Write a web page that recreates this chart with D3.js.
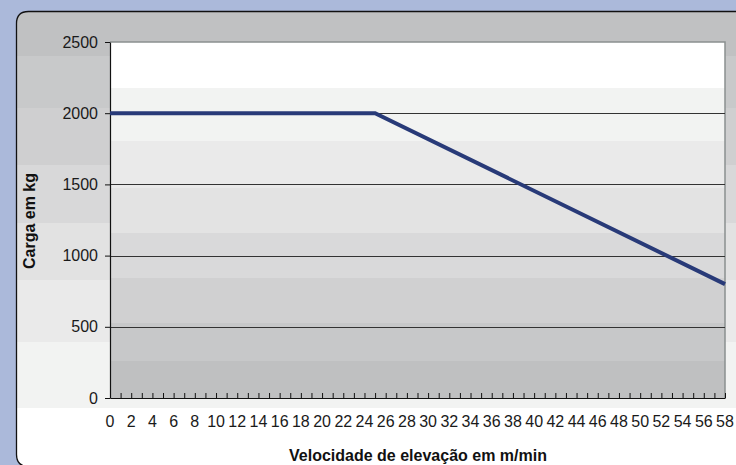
<!DOCTYPE html>
<html>
<head>
<meta charset="utf-8">
<script src="https://cdn.jsdelivr.net/npm/d3@7"></script>
<style>
  body { margin: 0; background: #abb9da; }
  svg { display: block; }
  svg text { font-family: "Liberation Sans", Arial, sans-serif; }
</style>
</head>
<body>
<svg id="chart" width="736" height="465"></svg>
<script>
// chart data
const speeds = [0, 25, 58];          // m/min
const loads = [2000, 2000, 800];     // kg
const yTicks = [0, 500, 1000, 1500, 2000, 2500];
const xTickLabels = [0, 2, 4, 6, 8, 10, 12, 14, 16, 18, 20, 22, 24, 26, 28, 30,
    32, 34, 36, 38, 40, 42, 44, 46, 48, 50, 52, 54, 56, 58];
const xMinorTicks = d3.range(0, 59, 1);
const xTitle = "Velocidade de elevação em m/min";
const yTitle = "Carga em kg";

(function () {
    var width = 736, height = 465;
    var margin = { left: 110, right: 725, top: 42, bottom: 398 };

    const svg = d3.select("#chart");

    svg.append("rect").attr("width", width).attr("height", height).attr("fill", "#abb9da");

    // outer panel, rounded on the left, runs off the right/bottom edges
    var px = 16.5, py = 11.5, pr = 12, pw = 740, ph = 455;
    var panelPath = `M${px},${py + pr} Q${px},${py} ${px + pr},${py} L${px + pw},${py} L${px + pw},${py + ph} L${px + pr},${py + ph} Q${px},${py + ph} ${px},${py + ph - pr} Z`;

    svg.append("clipPath").attr("id", "panelClip").append("path").attr("d", panelPath);

    // panel gradient bands (dark at top, white at bottom)
    const panelBands = [
        [11, 56, "#c0c1c2"], [56, 108, "#c8c9ca"], [108, 165, "#cfcfd0"],
        [165, 223, "#d8d8d9"], [223, 280, "#e2e2e2"], [280, 342, "#eaeaea"],
        [342, 408, "#f2f3f2"], [408, 470, "#ffffff"]
    ];
    svg.append("g").attr("clip-path", "url(#panelClip)")
        .selectAll("rect")
        .data(panelBands)
        .join("rect")
        .attr("x", 0).attr("width", width)
        .attr("y", d => d[0]).attr("height", d => d[1] - d[0])
        .attr("fill", d => d[2]);

    svg.append("path").attr("d", panelPath)
        .attr("fill", "none").attr("stroke", "#111").attr("stroke-width", 1.3);

    var x = d3.scaleLinear().domain([0, 58]).range([margin.left, margin.right]);
    var y = d3.scaleLinear().domain([0, 2500]).range([margin.bottom, margin.top]);

    // plot area bands (white at top, gray at bottom)
    const plotBands = [
        [42, 88, "#ffffff"], [88, 141, "#f2f3f2"], [141, 188, "#eaeaea"],
        [188, 233, "#e3e3e3"], [233, 278, "#d9d9da"], [278, 323, "#d0d0d1"],
        [323, 361, "#c7c8c9"], [361, 398, "#bfc0c1"]
    ];
    svg.append("g")
        .selectAll("rect")
        .data(plotBands)
        .join("rect")
        .attr("x", margin.left).attr("width", margin.right - margin.left)
        .attr("y", d => d[0]).attr("height", d => d[1] - d[0])
        .attr("fill", d => d[2]);

    // top and right plot border
    svg.append("path")
        .attr("d", `M${margin.left},${margin.top} H${margin.right} V${margin.bottom}`)
        .attr("fill", "none").attr("stroke", "#8a9090").attr("stroke-width", 1.5);

    // gridlines
    svg.append("g")
        .selectAll("line")
        .data(yTicks.filter(d => d > 0 && d < 2500))
        .join("line")
        .attr("x1", margin.left).attr("x2", margin.right)
        .attr("y1", d => Math.round(y(d)) + 0.5).attr("y2", d => Math.round(y(d)) + 0.5)
        .attr("stroke", "#333").attr("stroke-width", 1);

    // y axis
    const yAxis = svg.append("g")
        .attr("transform", `translate(${margin.left},0)`)
        .call(d3.axisLeft(y).tickValues(yTicks).tickFormat(d3.format("d"))
            .tickSize(5).tickSizeOuter(0).tickPadding(7));
    yAxis.attr("font-family", null);
    yAxis.select(".domain").attr("stroke", "#111").attr("stroke-width", 1.2);
    yAxis.selectAll(".tick line").attr("stroke", "#111");
    yAxis.selectAll("text").attr("font-size", "16px").attr("fill", "#1a1a1a");

    // x axis: minor inward ticks every unit, labels every 2
    const xAxis = svg.append("g")
        .attr("transform", `translate(0,${margin.bottom})`)
        .call(d3.axisBottom(x).tickValues(xMinorTicks).tickSize(-5).tickSizeOuter(0).tickFormat(""));
    xAxis.select(".domain").attr("stroke", "#111").attr("stroke-width", 1.2);
    xAxis.selectAll(".tick line").attr("stroke", "#111");

    svg.append("g")
        .selectAll("text")
        .data(xTickLabels)
        .join("text")
        .attr("x", d => x(d))
        .attr("y", 427)
        .attr("text-anchor", "middle")
        .attr("font-size", "16px")
        .attr("fill", "#1a1a1a")
        .text(d => d);

    // data line
    var line = d3.line().x((d, i) => x(speeds[i])).y(d => y(d));
    svg.append("path")
        .datum(loads)
        .attr("d", line)
        .attr("fill", "none")
        .attr("stroke", "#283a78")
        .attr("stroke-width", 4);

    // axis titles
    svg.append("text")
        .attr("x", 418).attr("y", 461)
        .attr("text-anchor", "middle")
        .attr("font-size", "16px").attr("font-weight", "bold").attr("fill", "#111")
        .text(xTitle);

    svg.append("text")
        .attr("transform", "translate(35,221) rotate(-90)")
        .attr("text-anchor", "middle")
        .attr("font-size", "16px").attr("font-weight", "bold").attr("fill", "#111")
        .text(yTitle);
})();
</script>
</body>
</html>
